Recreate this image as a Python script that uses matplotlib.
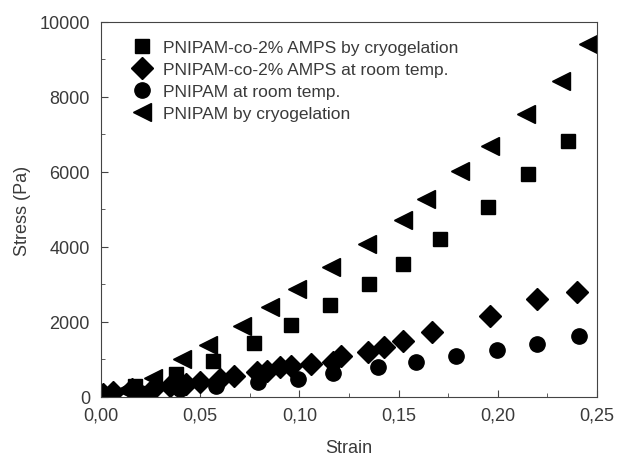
import matplotlib
matplotlib.use("Agg")
import matplotlib.pyplot as plt
from matplotlib.ticker import MultipleLocator, FuncFormatter

plt.rcParams['font.family'] = ['Liberation Sans', 'DejaVu Sans']

# PNIPAM-co-2% AMPS by cryogelation
sq_x = [0.0, 0.017, 0.038, 0.0565, 0.077, 0.096, 0.1155, 0.135, 0.152, 0.171, 0.195, 0.215, 0.2355]
sq_y = [40, 280, 610, 960, 1440, 1920, 2450, 3010, 3550, 4210, 5060, 5940, 6830]

# PNIPAM-co-2% AMPS at room temp.
dia_x = [0.001, 0.006, 0.0156, 0.026, 0.035, 0.043, 0.050, 0.060, 0.067, 0.0786, 0.0835,
         0.090, 0.096, 0.106, 0.117, 0.121, 0.1346, 0.1427, 0.152, 0.167, 0.196, 0.2198, 0.240]
dia_y = [80, 130, 210, 210, 300, 350, 400, 480, 560, 670, 700,
         800, 830, 880, 940, 1080, 1200, 1320, 1490, 1730, 2170, 2610, 2810]

# PNIPAM at room temp.
cir_x = [0.0, 0.02, 0.04, 0.058, 0.079, 0.0995, 0.117, 0.1395, 0.159, 0.179, 0.1995, 0.220, 0.241]
cir_y = [30, 100, 200, 300, 400, 490, 640, 800, 940, 1100, 1250, 1420, 1630]

# PNIPAM by cryogelation
tri_x = [0.0, 0.012, 0.026, 0.041, 0.054, 0.071, 0.085, 0.099, 0.116, 0.134, 0.152,
         0.164, 0.181, 0.196, 0.214, 0.232, 0.2455]
tri_y = [40, 180, 500, 1010, 1390, 1890, 2400, 2880, 3460, 4090, 4720,
         5290, 6030, 6690, 7550, 8430, 9420]

labels = ["PNIPAM-co-2% AMPS by cryogelation",
          "PNIPAM-co-2% AMPS at room temp.",
          "PNIPAM at room temp.",
          "PNIPAM by cryogelation"]

fig = plt.figure(figsize=(6.17, 4.56), dpi=100)
ax = fig.add_axes([0.1637, 0.1272, 0.8039, 0.8224])

ax.plot(sq_x, sq_y, 's', color='black', ms=10.5, ls='none', label=labels[0])
ax.plot(dia_x, dia_y, 'D', color='black', ms=11, ls='none', label=labels[1])
ax.plot(cir_x, cir_y, 'o', color='black', ms=11, ls='none', label=labels[2])
ax.plot(tri_x, tri_y, '<', color='black', ms=13, ls='none', label=labels[3])

ax.set_xlim(0, 0.25)
ax.set_ylim(0, 10000)
ax.xaxis.set_major_locator(MultipleLocator(0.05))
ax.xaxis.set_minor_locator(MultipleLocator(0.025))
ax.yaxis.set_major_locator(MultipleLocator(2000))
ax.yaxis.set_minor_locator(MultipleLocator(1000))
ax.xaxis.set_major_formatter(FuncFormatter(lambda v, p: f"{v:.2f}".replace('.', ',')))

txt = '#3a3a3a'
ax.tick_params(which='both', direction='in', colors='#444444', labelcolor=txt, labelsize=13)
ax.tick_params(which='major', length=5)
ax.tick_params(which='minor', length=3)
ax.tick_params(axis='y', pad=8)
ax.tick_params(axis='x', pad=7)
for s in ax.spines.values():
    s.set_color('#444444')

ax.set_xlabel("Strain", fontsize=13, color=txt, labelpad=11)
ax.set_ylabel("Stress (Pa)", fontsize=13, color=txt, labelpad=6)

leg = ax.legend(loc='upper left', frameon=False, fontsize=12.5, handletextpad=0.7,
                labelspacing=0.4, borderaxespad=0.3, bbox_to_anchor=(0.04, 0.985),
                handlelength=1.0)
for t in leg.get_texts():
    t.set_color(txt)

fig.savefig("out.png", dpi=100)
